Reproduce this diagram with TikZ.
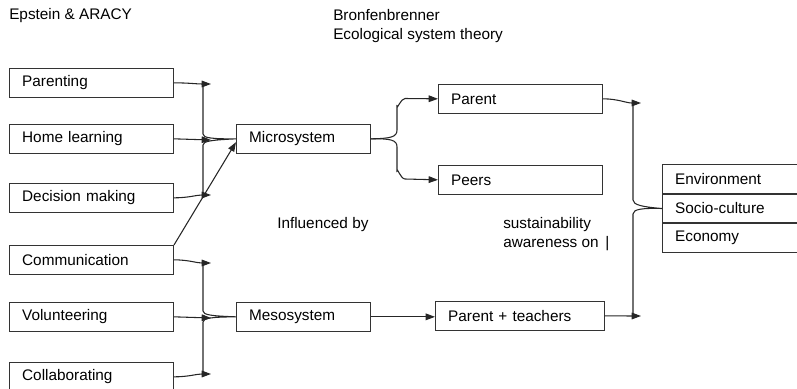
\documentclass[tikz,border=0pt]{standalone}
\usepackage{fontspec}
\setmainfont{Liberation Sans}
\usetikzlibrary{arrows.meta, positioning}
\tikzstyle{line} = [draw=black!85, line width=0.8pt]
\tikzstyle{arrow} = [line, -{Triangle[length=7pt,width=5pt]}]

\begin{document}
\begin{tikzpicture}[x=0.75pt, y=-0.75pt, font=\fontsize{11.5}{14}\selectfont,
  box/.style={draw=black!80, line width=0.75pt, anchor=north west, minimum height=21.5pt, inner xsep=9.5pt, inner ysep=0pt, text width=#1, align=left},
  box/.default=104pt, label/.style={inner sep=0pt, align=left}]

    \useasboundingbox (0,0) rectangle (797,389);

    % headings
    \node (epstein) [label, anchor=west] at (9,16) {Epstein \& ARACY};
    \node (bronf) [label, anchor=north west] at (333,9) {Bronfenbrenner\\Ecological system theory};

    % six types of involvement
    \node (parenting) [box] at (9,68) {Parenting};
    \node (homelearning) [box] at (9,124) {Home learning};
    \node (decision) [box] at (9,183) {Decision making};
    \node (communication) [box] at (9,245) {Communication};
    \node (volunteering) [box] at (9,302) {Volunteering};
    \node (collaborating) [box] at (9,362) {Collaborating};

    % systems
    \node (microsystem) [box=81.5pt] at (236,124) {Microsystem};
    \node (mesosystem) [box=81.5pt] at (236,302) {Mesosystem};
    \node (parent) [box] at (438,84) {Parent};
    \node (peers) [box] at (438,165) {Peers};
    \node (parentteachers) [box=107.5pt] at (435,301) {Parent + teachers};

    % sustainability table
    \node (environment) [box=100pt] at (662,164) {Environment};
    \node (socio) [box=100pt, below=0pt of environment] {Socio-culture};
    \node (economy) [box=100pt, below=0pt of socio] {Economy};

    \node (influenced) [label, anchor=west] at (277,225) {Influenced by};
    \node (awareness) [label, anchor=north west] at (503,217) {sustainability\\awareness on\hspace{5pt}|};

    % left brackets
    \coordinate (ta) at (211,84);
    \coordinate (tb) at (211,140);
    \coordinate (tc) at (211,195);
    \coordinate (ba) at (211,263);
    \coordinate (bb) at (211,318);
    \coordinate (bc) at (211,374);

    \draw[arrow] (parenting.east) to[out=0,in=180] (ta);
    \draw[arrow] (homelearning.east) -- (tb);
    \draw[arrow] (decision.east) to[out=0,in=180] (tc);
    \draw[arrow] (communication.east) to[out=0,in=180] (ba);
    \draw[arrow] (volunteering.east) -- (bb);
    \draw[arrow] (collaborating.east) to[out=0,in=180] (bc);

    \draw[line] (203,84) -- (203,134) .. controls (203,138) and (212,139) .. (microsystem.west)
      .. controls (212,140) and (203,141) .. (203,145) -- (203,195);
    \draw[line] (203,262) -- (203,311) .. controls (203,315) and (212,316) .. (mesosystem.west)
      .. controls (212,317) and (203,318) .. (203,322) -- (203,374);

    \draw[arrow] (communication.north east) -- ([yshift=-2.5pt]microsystem.west);

    % microsystem split
    \draw[arrow] (microsystem.east) .. controls (391,138.5) and (397,137) .. (397,130) -- (397,106)
      to[out=-90,in=180] (405,98.5) -- (parent.west);
    \draw[arrow] (microsystem.east) .. controls (391,138.5) and (397,140) .. (397,147) -- (397,171)
      to[out=90,in=180] (405,179) -- (peers.west);

    \draw[arrow] (mesosystem.east) -- (mesosystem.east -| parentteachers.west);

    % right bracket
    \coordinate (ra) at (641,103);
    \coordinate (rb) at (641,316);
    \draw[arrow] (parent.east) to[out=0,in=180] (ra);
    \draw[arrow] (parentteachers.east) to[out=0,in=180] (rb);
    \draw[line] (633,103) -- (633,200) .. controls (633,205) and (643,207) .. (socio.west)
      .. controls (643,208) and (633,209) .. (633,214) -- (633,316);

\end{tikzpicture}
\end{document}
